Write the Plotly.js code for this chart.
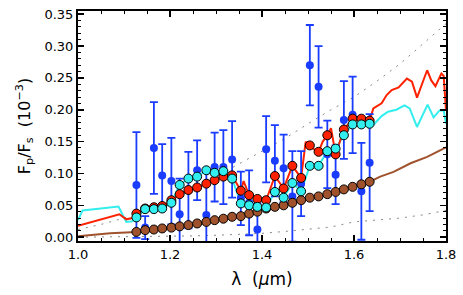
<!DOCTYPE html>
<html>
<head>
<meta charset="utf-8">
<script src="https://cdn.plot.ly/plotly-3.0.1.min.js"></script>
<style>html,body{margin:0;padding:0;background:#fff;}#chart{width:463px;height:295px;}</style>
</head>
<body>
<div id="chart"></div>
<script>
// Bin centres (micron)
const wl = [1.127,1.146,1.165,1.183,1.203,1.221,1.240,1.259,1.279,1.297,1.316,1.335,1.354,1.372,1.390,1.409,1.428,1.447,1.466,1.485,1.504,1.523,1.542,1.560,1.578,1.597,1.616,1.634];
// Observed planet/star flux ratio (10^-3) and errors
const obs = [0.082,0.015,0.140,0.097,0.088,0.036,0.074,0.105,0.035,0.110,0.110,0.122,0.061,0.054,0.012,0.138,0.120,0.108,0.064,0.084,0.270,0.236,0.130,0.098,0.184,0.192,0.072,0.117];
const obsErr = [0.083,0.018,0.072,0.049,0.068,0.056,0.060,0.047,0.070,0.054,0.058,0.060,0.042,0.051,0.041,0.052,0.056,0.053,0.071,0.051,0.063,0.064,0.053,0.046,0.061,0.060,0.076,0.076];
// Binned models
const redBin = [0.037,0.045,0.047,0.049,0.058,0.0675,0.074,0.078,0.084,0.0895,0.095,0.097,0.073,0.066,0.060,0.058,0.096,0.0765,0.112,0.093,0.144,0.134,0.160,0.130,0.169,0.186,0.186,0.183];
const cyanBin = [0.031,0.044,0.044,0.045,0.054,0.082,0.092,0.095,0.105,0.101,0.1036,0.092,0.053,0.050,0.0476,0.0466,0.071,0.062,0.085,0.072,0.112,0.112,0.135,0.139,0.160,0.177,0.177,0.178];
const brownBin = [0.0083,0.011,0.012,0.0137,0.015,0.017,0.019,0.0215,0.024,0.0267,0.029,0.032,0.033,0.037,0.040,0.045,0.0476,0.050,0.054,0.058,0.062,0.064,0.0675,0.071,0.075,0.079,0.083,0.087];
// High-resolution model spectra
const redX = [1.000,1.090,1.105,1.118,1.127,1.146,1.165,1.183,1.203,1.221,1.240,1.259,1.279,1.297,1.316,1.335,1.354,1.360,1.372,1.390,1.409,1.428,1.447,1.466,1.485,1.495,1.504,1.513,1.523,1.532,1.542,1.550,1.560,1.578,1.597,1.616,1.634,1.642,1.660,1.671,1.682,1.697,1.715,1.726,1.737,1.746,1.759,1.768,1.777,1.790,1.795,1.800];
const redY = [0.018,0.036,0.028,0.030,0.037,0.045,0.047,0.049,0.058,0.0675,0.074,0.078,0.084,0.0895,0.095,0.097,0.073,0.088,0.066,0.060,0.058,0.096,0.0765,0.112,0.093,0.150,0.144,0.138,0.134,0.150,0.160,0.171,0.130,0.169,0.186,0.186,0.183,0.202,0.210,0.223,0.231,0.235,0.249,0.244,0.219,0.237,0.262,0.246,0.237,0.257,0.253,0.199];
const cyanX = [1.000,1.010,1.088,1.105,1.118,1.127,1.146,1.165,1.183,1.203,1.221,1.240,1.259,1.279,1.297,1.316,1.335,1.354,1.372,1.390,1.409,1.428,1.447,1.466,1.485,1.504,1.523,1.542,1.560,1.578,1.597,1.616,1.634,1.642,1.660,1.674,1.692,1.710,1.721,1.737,1.747,1.760,1.773,1.786,1.795,1.800];
const cyanY = [0.027,0.042,0.048,0.024,0.025,0.031,0.044,0.044,0.045,0.054,0.082,0.092,0.095,0.105,0.101,0.1036,0.092,0.053,0.050,0.0476,0.0466,0.071,0.062,0.085,0.072,0.112,0.112,0.135,0.139,0.160,0.177,0.177,0.178,0.176,0.190,0.197,0.200,0.207,0.202,0.173,0.189,0.208,0.188,0.199,0.199,0.178];
const brownX = [1.000,1.070,1.127,1.146,1.165,1.183,1.203,1.221,1.240,1.259,1.279,1.297,1.316,1.335,1.354,1.372,1.390,1.409,1.428,1.447,1.466,1.485,1.504,1.523,1.542,1.560,1.578,1.597,1.616,1.634,1.657,1.686,1.723,1.759,1.800];
const brownY = [0.0015,0.006,0.0083,0.011,0.012,0.0137,0.015,0.017,0.019,0.0215,0.024,0.0267,0.029,0.032,0.033,0.037,0.040,0.045,0.0476,0.050,0.054,0.058,0.062,0.064,0.0675,0.071,0.075,0.079,0.083,0.087,0.095,0.1025,0.116,0.126,0.141];
// Blackbody envelopes (dotted)
const bbX = [1.00,1.05,1.10,1.15,1.20,1.25,1.30,1.35,1.40,1.45,1.50,1.55,1.60,1.65,1.70,1.75,1.80];
const bbHot = [0.012,0.020,0.030,0.043,0.057,0.075,0.095,0.115,0.135,0.155,0.178,0.200,0.220,0.245,0.272,0.303,0.335];
const bbCold = [0.000,0.0002,0.0005,0.001,0.0015,0.002,0.003,0.0045,0.006,0.009,0.012,0.016,0.024,0.027,0.030,0.035,0.042];

const blue = '#1a3cff', red = '#ff2200', cyan = '#33eeee', brown = '#a0522d';
const dotted = {color:'#888888', width:1, dash:'2px,6px'};

const traces = [
  {x:bbX, y:bbHot, mode:'lines', line:dotted, hoverinfo:'skip'},
  {x:bbX, y:bbCold, mode:'lines', line:dotted, hoverinfo:'skip'},
  {x:brownX, y:brownY, mode:'lines', line:{color:brown, width:2}},
  {x:cyanX, y:cyanY, mode:'lines', line:{color:cyan, width:2}},
  {x:redX, y:redY, mode:'lines', line:{color:red, width:2}},
  {x:wl, y:obs, mode:'markers', marker:{color:blue, size:8},
   error_y:{type:'data', array:obsErr, visible:true, color:blue, thickness:1.8, width:4}},
  {x:wl, y:brownBin, mode:'markers', marker:{color:brown, size:9, line:{color:'black', width:1}}},
  {x:wl, y:redBin, mode:'markers', marker:{color:red, size:9, line:{color:'black', width:1}}},
  {x:wl, y:cyanBin, mode:'markers', marker:{color:cyan, size:9, line:{color:'black', width:1}}}
];

const axisCommon = {
  showline:true, linewidth:2, linecolor:'black', mirror:'ticks',
  ticks:'inside', ticklen:6, tickwidth:1.5, tickcolor:'black',
  showgrid:false, zeroline:false,
  tickfont:{family:'DejaVu Sans', size:13, color:'black'}
};
const layout = {
  width:463, height:295,
  margin:{l:78, r:17, t:11, b:54},
  showlegend:false,
  paper_bgcolor:'white', plot_bgcolor:'white',
  font:{family:'DejaVu Sans', color:'black'},
  xaxis:Object.assign({}, axisCommon, {
    range:[1.0,1.8], tick0:1.0, dtick:0.2, tickformat:'.1f',
    minor:{dtick:0.05, ticks:'inside', ticklen:3, tickwidth:1, tickcolor:'black'},
    title:{text:'λ  (<i>μ</i>m)', font:{family:'DejaVu Sans', size:17}, standoff:13}
  }),
  yaxis:Object.assign({}, axisCommon, {
    range:[-0.006,0.355], tick0:0, dtick:0.05, tickformat:'.2f',
    minor:{dtick:0.01, ticks:'inside', ticklen:3, tickwidth:1, tickcolor:'black'},
    title:{text:'F<sub>p</sub>/F<sub>s</sub>  (10<sup>−3</sup>)', font:{family:'DejaVu Sans', size:16}, standoff:10}
  })
};
Plotly.newPlot('chart', traces, layout, {displayModeBar:false, staticPlot:true});
</script>
</body>
</html>
